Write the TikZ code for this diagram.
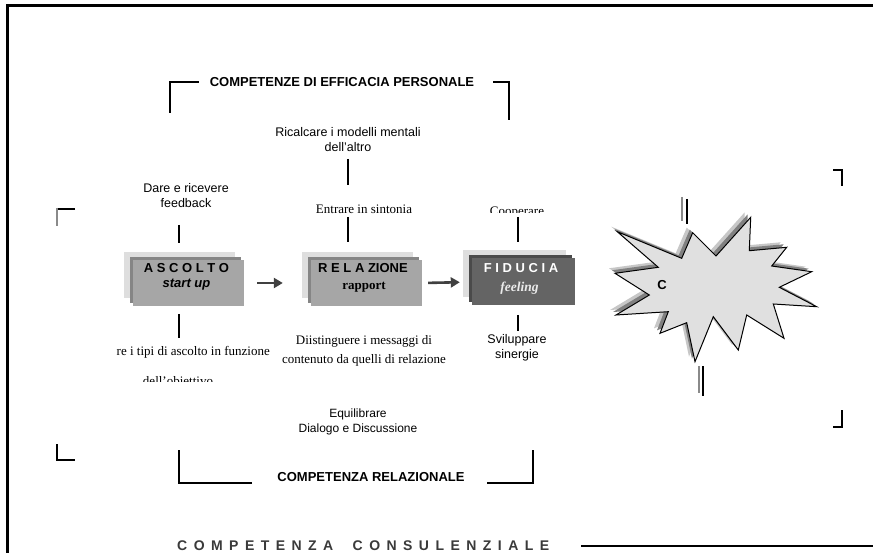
\documentclass[tikz,border=0pt]{standalone}
\usepackage{fontspec}
\setmainfont{Liberation Serif}
\setsansfont{Liberation Sans}
\usetikzlibrary{arrows.meta,shadows}
\definecolor{backgray}{HTML}{DEDEDE}
\definecolor{edgegray}{HTML}{858585}
\definecolor{midgray}{HTML}{A6A6A6}
\definecolor{fidgray}{HTML}{646464}
\definecolor{fidedge}{HTML}{4A4A4A}
\definecolor{arrowgray}{HTML}{404040}
\definecolor{consgray}{HTML}{3A3A3A}
\definecolor{starfill}{HTML}{E0E0E0}
\definecolor{markgray}{HTML}{8A8A8A}
\begin{document}
\begin{tikzpicture}[x=1pt,y=-1pt,
  sanslbl/.style={font=\sffamily\fontsize{12.5}{15}\selectfont, align=center, inner sep=0pt},
  seriflbl/.style={font=\rmfamily\fontsize{13}{19}\selectfont, align=center, inner sep=0pt},
  headlbl/.style={font=\sffamily\bfseries\fontsize{13}{15}\selectfont, inner sep=0pt},
  boxtitle/.style={font=\sffamily\bfseries\fontsize{13}{15}\selectfont, inner sep=0pt},
  tickline/.style={line width=1.8pt},
  stackbox/.style 2 args={minimum width=111pt, minimum height=46pt, inner sep=0pt, fill=#1,
    general shadow={fill=backgray, shadow xshift=-9pt, shadow yshift=8pt},
    general shadow={fill=#2, shadow xshift=-3pt, shadow yshift=3pt}},
  flowarrow/.style={draw=arrowgray, line width=2.6pt, -{Triangle[length=9pt,width=10pt]}},
]
\useasboundingbox (0,0) rectangle (873,553);
\fill[white] (0,0) rectangle (873,553);

% outer frame
\draw[line width=3pt] (7.5,553) -- (7.5,6) -- (873,6);

% top bracket
\node[headlbl] (eff) at (342,82) {COMPETENZE DI EFFICACIA PERSONALE};
\draw[line width=1.8pt] (170,113) -- (170,82) -- (199,82);
\draw[line width=2.4pt] (493,82) -- (510,82);
\draw[line width=1.2pt] (509,82) -- (509,120);

% upper labels
\node[sanslbl] (ric) at (348,140) {Ricalcare i modelli mentali\\dell'altro};
\node[sanslbl] (dare) at (186,196) {Dare e ricevere\\feedback};
\node[seriflbl] (entr) at (364,209) {Entrare in sintonia};
\begin{scope}
  \clip (470,195) rectangle (570,213);
  \node[seriflbl, anchor=base] (coop) at (517,216) {Cooperare};
\end{scope}

% ticks
\draw[tickline] (348,159) -- (348,185);
\draw[tickline] (179,225) -- (179,243);
\draw[tickline] (348,217) -- (348,242);
\draw[tickline] (518,217) -- (518,242);
\draw[tickline] (179,314) -- (179,338);
\draw[tickline] (518,315) -- (518,331);

% boxes
\node[stackbox={midgray}{edgegray}] (asc) at (188.5,283) {};
\node[stackbox={midgray}{edgegray}] (rel) at (366.5,283) {};
\node[stackbox={fidgray}{fidedge}, minimum width=103pt, minimum height=47pt] (fid) at (523.5,282) {};

\node[boxtitle] (asct) at (186.5,268) {A S C O L T O};
\node[font=\sffamily\bfseries\itshape\fontsize{13}{15}\selectfont, inner sep=0pt] (ascs) at (186.5,285) {start up};
\node[boxtitle] (relt) at (363,268) {R E L A ZIONE};
\node[font=\rmfamily\bfseries\fontsize{13}{15}\selectfont, inner sep=0pt] (rels) at (364,287) {rapport};
\node[boxtitle, text=white] (fidt) at (521,268) {F I D U C I A};
\node[font=\rmfamily\bfseries\itshape\fontsize{13.5}{15}\selectfont, text=white!92!black, inner sep=0pt] (fids) at (519.5,288) {feeling};

\draw[flowarrow, shorten <=13pt, shorten >=28pt] (asc.east) -- (rel.west);
\draw[flowarrow, shorten <=6pt, shorten >=12pt] (rel.east) -- (fid.west);

% lower labels
\node[sanslbl] (svil) at (517,348) {Sviluppare\\sinergie};
\node[seriflbl] (diist) at (364,351) {Diistinguere i messaggi di\\contenuto da quelli di relazione};
\begin{scope}
  \clip (115,330) rectangle (300,381);
  \node[seriflbl, anchor=east] (tipi) at (270,352) {re i tipi di ascolto in funzione};
  \node[seriflbl, anchor=base] (obiet) at (178,385) {dell'obiettivo};
\end{scope}
\node[font=\sffamily\fontsize{12}{15}\selectfont, align=center, inner sep=0pt] (equil) at (358,422) {Equilibrare\\Dialogo e Discussione};

% bottom bracket
\node[headlbl] (relc) at (371,477) {COMPETENZA RELAZIONALE};
\draw[line width=1.8pt] (252,483) -- (179,483) -- (179,450);
\draw[line width=1.8pt] (487,483) -- (533,483) -- (533,450);

% consulenziale
\node[anchor=west, text=consgray, font=\sffamily\bfseries\fontsize{14}{16}\selectfont, inner sep=0pt] (cons) at (177,546)
 {\makebox[372pt][s]{C\hfill O\hfill M\hfill P\hfill E\hfill T\hfill E\hfill N\hfill Z\hfill A\hfill\hfill\hfill C\hfill O\hfill N\hfill S\hfill U\hfill L\hfill E\hfill N\hfill Z\hfill I\hfill A\hfill L\hfill E}};
\coordinate (consend) at (873,546);
\draw[line width=2pt] ([xshift=32pt]cons.east) -- (consend);

% corner marks
\draw[line width=2pt] (75,209) -- (56.5,209);
\draw[line width=1.5pt, draw=markgray] (57,208) -- (57,226);
\draw[line width=1.8pt] (57,444) -- (57,460) -- (75,460);
\draw[line width=1.8pt] (833,170) -- (842,170) -- (842,186);
\draw[line width=1.3pt] (842,410) -- (842,427) -- (833,427);

% double lines near star
\draw[line width=1.3pt, draw=markgray] (682,197) -- (682,221);
\draw[line width=1.8pt] (687,199) -- (687,224);
\draw[line width=1.3pt, draw=markgray] (699,366) -- (699,393);
\draw[line width=1.8pt] (703,366) -- (703,396);

% starburst
\def\starpath{(617.3,231.7) -- (681.7,258.3) -- (692.7,232.7) -- (716,256) -- (750.7,217.3) -- (749.3,250.7) -- (786.7,247.3) -- (771.7,266) -- (811.7,271.7) -- (779.3,287.3) -- (816.7,306.7) -- (773.3,304) -- (784,338.3) -- (746.7,315) -- (738.3,350) -- (713.3,316.7) -- (695,361.7) -- (686.7,322.7) -- (660,333.3) -- (668.3,311.7) -- (616,315) -- (649.3,295) -- (615,273.3) -- (658.3,267.3) -- cycle}
\fill[black!22, shift={(-6,-5)}] \starpath;
\fill[black!50, shift={(-3,-3)}] \starpath;
\filldraw[fill=starfill, draw=black, line width=1pt, line join=miter] \starpath;
\node[font=\sffamily\bfseries\fontsize{13}{15}\selectfont, inner sep=0pt] (cstar) at (662,285) {C};
\end{tikzpicture}
\end{document}
